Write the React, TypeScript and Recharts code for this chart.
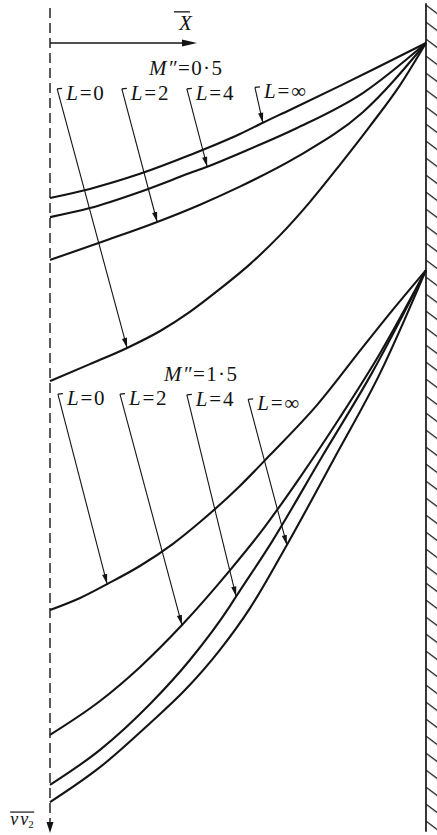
import { LineChart, Line, XAxis, YAxis, ReferenceLine, ReferenceDot } from "recharts";

const INK = "#141414";
const SERIF = '"Liberation Serif", "Times New Roman", serif';

type P = [number, number];

// X runs from the centre line (0) to the wall (1); Y runs downstream from the upper wall point.
const X_DOMAIN: [number, number] = [-0.133, 1.0293];
const Y_DOMAIN: [number, number] = [-0.1144, 2.1064];

// M'' = 0.5
const UPPER_L0: P[] = [
  [0, 0.899], [0.106, 0.854], [0.205, 0.811], [0.293, 0.766], [0.372, 0.715], [0.452, 0.654],
  [0.532, 0.588], [0.612, 0.511], [0.691, 0.423], [0.771, 0.324], [0.851, 0.221], [0.931, 0.112], [1, 0],
];
const UPPER_L2: P[] = [
  [0, 0.577], [0.152, 0.524], [0.285, 0.476], [0.399, 0.43], [0.505, 0.382], [0.657, 0.303], [0.832, 0.184], [1, 0],
];
const UPPER_L4: P[] = [
  [0, 0.463], [0.106, 0.439], [0.239, 0.396], [0.372, 0.346], [0.418, 0.329], [0.505, 0.293], [0.657, 0.226], [0.832, 0.133], [1, 0],
];
const UPPER_LINF: P[] = [
  [0, 0.412], [0.106, 0.388], [0.239, 0.348], [0.372, 0.298], [0.505, 0.242], [0.566, 0.212], [0.638, 0.178], [0.771, 0.114], [0.878, 0.061], [1, 0],
];

// M'' = 1.5
const LOWER_L0: P[] = [
  [0, 1.508], [0.08, 1.476], [0.152, 1.439], [0.239, 1.391], [0.327, 1.332], [0.399, 1.274],
  [0.505, 1.178], [0.585, 1.096], [0.71, 0.963], [0.832, 0.809], [0.918, 0.702], [1, 0.604],
];
const LOWER_L2: P[] = [
  [0, 1.84], [0.133, 1.75], [0.239, 1.66], [0.351, 1.548], [0.479, 1.402], [0.559, 1.303], [0.665, 1.155], [0.771, 0.996], [0.878, 0.825], [1, 0.604],
];
const LOWER_L4: P[] = [
  [0, 1.973], [0.133, 1.88], [0.266, 1.758], [0.372, 1.641], [0.479, 1.497], [0.495, 1.472], [0.588, 1.33], [0.723, 1.101], [0.856, 0.878], [1, 0.604],
];
const LOWER_LINF: P[] = [
  [0, 2.019], [0.133, 1.926], [0.266, 1.809], [0.359, 1.721], [0.452, 1.614], [0.532, 1.503], [0.63, 1.335], [0.758, 1.101], [0.878, 0.878], [1, 0.604],
];

const L_VALUES = ["0", "2", "4", "∞"];
const UPPER_CURVES = [UPPER_L0, UPPER_L2, UPPER_L4, UPPER_LINF];
const LOWER_CURVES = [LOWER_L0, LOWER_L2, LOWER_L4, LOWER_LINF];
// index of the point each leader arrow ends on
const UPPER_TIPS = [2, 2, 4, 5];
const LOWER_TIPS = [2, 3, 5, 6];
// where each "L=" tag sits
const UPPER_HOOKS: P[] = [[0.019, 0.122], [0.191, 0.122], [0.364, 0.122], [0.545, 0.118]];
const LOWER_HOOKS: P[] = [[0.021, 0.934], [0.186, 0.934], [0.364, 0.936], [0.527, 0.948]];

const toRows = (pts: P[]) => pts.map(([x, y]) => ({ x, y }));

function headPoints(x1: number, y1: number, x2: number, y2: number, len: number, half: number) {
  const a = Math.atan2(y2 - y1, x2 - x1);
  const bx = x2 - len * Math.cos(a);
  const by = y2 - len * Math.sin(a);
  const nx = -Math.sin(a) * half;
  const ny = Math.cos(a) * half;
  return `${x2},${y2} ${bx + nx},${by + ny} ${bx - nx},${by - ny}`;
}

type Seg = { x1?: number; y1?: number; x2?: number; y2?: number };

function leaderShape(value: string) {
  return function Leader(p: Seg) {
    const x1 = Number(p.x1), y1 = Number(p.y1), x2 = Number(p.x2), y2 = Number(p.y2);
    return (
      <g>
        <line x1={x1} y1={y1} x2={x1 + 5} y2={y1 - 0.5} stroke={INK} strokeWidth={1.3} />
        <line x1={x1} y1={y1} x2={x2} y2={y2} stroke={INK} strokeWidth={1.1} />
        <polygon points={headPoints(x1, y1, x2, y2, 10, 2.6)} fill={INK} />
        <text x={x1 + 9} y={y1 + 11} fontFamily={SERIF} fontSize={21} fill={INK} letterSpacing={1.8}>
          <tspan fontStyle="italic">L</tspan>
          <tspan>={value}</tspan>
        </text>
      </g>
    );
  };
}

function AxisDown(p: Seg) {
  const x1 = Number(p.x1), y1 = Number(p.y1), y2 = Number(p.y2);
  return (
    <g>
      <line x1={x1} y1={y1} x2={x1} y2={y2 - 11} stroke={INK} strokeWidth={1.4} strokeDasharray="10 5" />
      <polygon points={headPoints(x1, y1, x1, y2, 11, 3.5)} fill={INK} />
    </g>
  );
}

function AxisRight(p: Seg) {
  const x1 = Number(p.x1), y1 = Number(p.y1), x2 = Number(p.x2), y2 = Number(p.y2);
  return (
    <g>
      <line x1={x1} y1={y1} x2={x2 - 6} y2={y2} stroke={INK} strokeWidth={1.5} />
      <polygon points={headPoints(x1, y1, x2, y2, 15, 3.6)} fill={INK} />
    </g>
  );
}

function Wall(p: Seg) {
  const x1 = Number(p.x1), y1 = Number(p.y1), y2 = Number(p.y2);
  return (
    <g>
      <defs>
        <pattern id="wall-hatch" patternUnits="userSpaceOnUse" x={x1} y={y1 + 2} width={17} height={17}>
          <line x1={0} y1={0} x2={12} y2={9} stroke={INK} strokeWidth={1.2} />
        </pattern>
      </defs>
      <rect x={x1} y={y1} width={12} height={y2 - y1} fill="url(#wall-hatch)" />
      <line x1={x1} y1={y1} x2={x1} y2={y2} stroke={INK} strokeWidth={1.7} />
    </g>
  );
}

function machLabel(value: string) {
  return function MachLabel(p: { cx?: number; cy?: number }) {
    return (
      <text x={p.cx} y={p.cy} fontFamily={SERIF} fontSize={21} fill={INK} letterSpacing={1.4}>
        <tspan fontStyle="italic">M″</tspan>
        <tspan>={value}</tspan>
      </text>
    );
  };
}

function XLabel(p: { cx?: number; cy?: number }) {
  const cx = Number(p.cx), cy = Number(p.cy);
  return (
    <g>
      <line x1={cx - 5} y1={cy - 18} x2={cx + 11} y2={cy - 18} stroke={INK} strokeWidth={1.3} />
      <text x={cx} y={cy} fontFamily={SERIF} fontSize={21} fontStyle="italic" fill={INK}>X</text>
    </g>
  );
}

function VLabel(p: { cx?: number; cy?: number }) {
  const cx = Number(p.cx), cy = Number(p.cy);
  return (
    <g>
      <line x1={cx} y1={cy - 13} x2={cx + 24} y2={cy - 13} stroke={INK} strokeWidth={1.2} />
      <text x={cx} y={cy} fontFamily={SERIF} fontSize={18} fontStyle="italic" fill={INK}>
        v<tspan dx={2}>v</tspan>
        <tspan fontSize={11} fontStyle="normal" dy={3}>2</tspan>
      </text>
    </g>
  );
}

function family(curves: P[][], tips: number[], hooks: P[], key: string) {
  return curves.flatMap((pts, i) => [
    <Line
      key={`${key}-line-${i}`}
      data={toRows(pts)}
      dataKey="y"
      type="monotone"
      stroke={INK}
      strokeWidth={2.1}
      dot={false}
      activeDot={false}
      isAnimationActive={false}
    />,
    <ReferenceLine
      key={`${key}-leader-${i}`}
      segment={[
        { x: hooks[i][0], y: hooks[i][1] },
        { x: pts[tips[i]][0], y: pts[tips[i]][1] },
      ]}
      shape={leaderShape(L_VALUES[i])}
    />,
  ]);
}

export default function App() {
  return (
    <div style={{ position: "absolute", left: 0, top: 0, width: 437, height: 835, background: "#fff" }}>
      <LineChart width={437} height={835} margin={{ top: 0, right: 0, bottom: 0, left: 0 }}>
        <XAxis type="number" dataKey="x" domain={X_DOMAIN} allowDataOverflow hide />
        <YAxis type="number" dataKey="y" domain={Y_DOMAIN} allowDataOverflow reversed hide />
        <ReferenceLine segment={[{ x: 0, y: -0.093 }, { x: 0, y: 2.101 }]} shape={AxisDown} />
        <ReferenceLine segment={[{ x: 0, y: 0 }, { x: 0.391, y: 0 }]} shape={AxisRight} />
        <ReferenceLine segment={[{ x: 1, y: -0.106 }, { x: 1, y: 2.098 }]} shape={Wall} />
        {family(UPPER_CURVES, UPPER_TIPS, UPPER_HOOKS, "upper")}
        {family(LOWER_CURVES, LOWER_TIPS, LOWER_HOOKS, "lower")}
        <ReferenceDot x={0.263} y={0.086} r={0} shape={machLabel("0·5")} />
        <ReferenceDot x={0.303} y={0.899} r={0} shape={machLabel("1·5")} />
        <ReferenceDot x={0.343} y={-0.035} r={0} shape={XLabel} />
        <ReferenceDot x={-0.106} y={2.08} r={0} shape={VLabel} />
      </LineChart>
    </div>
  );
}
